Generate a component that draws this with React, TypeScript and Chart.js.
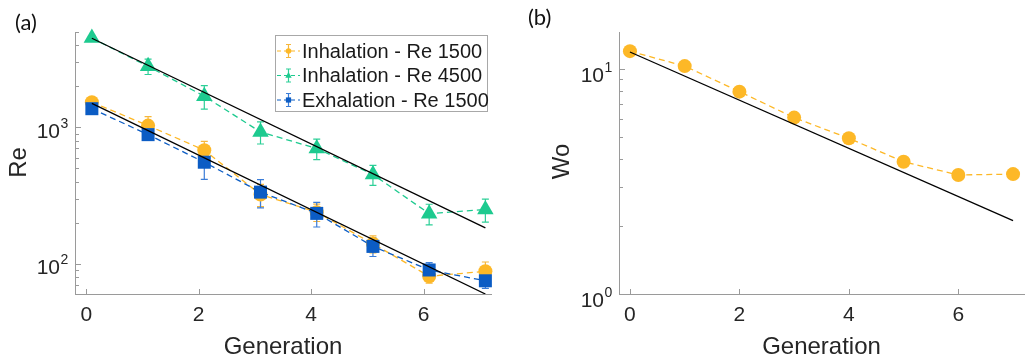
import React, { useEffect, useRef } from 'react';
import { Chart, registerables } from 'chart.js';
Chart.register(...registerables);

// ---------- data ----------
const generationA = [0.1, 1.1, 2.1, 3.1, 4.1, 5.1, 6.1, 7.1];
const inhal1500 = [1530, 1030, 680, 322, 239, 140, 81, 88];
const inhal1500Err = [50, 170, 110, 60, 35, 20, 9, 15];
const inhal4500 = [4510, 2800, 1690, 925, 700, 451, 233, 250];
const inhal4500Err = [100, 360, 330, 170, 120, 75, 40, 48];
const exhal1500 = [1370, 884, 555, 335, 234, 134, 90, 75];
const exhal1500Err = [40, 60, 140, 78, 48, 21, 12, 9];
const fitXA = [0.1, 7.1];
const fitHighA = [4500, 183];
const fitLowA = [1500, 60];

const generationB = [0, 1, 2, 3, 4, 5, 6, 7];
const womersley = [12.0, 10.3, 7.93, 6.08, 4.92, 3.87, 3.38, 3.41];
const fitXB = [0, 7];
const fitWo = [11.9, 2.12];

const xTickValues = [0, 2, 4, 6];
const legendLabels = ['Inhalation - Re 1500', 'Inhalation - Re 4500', 'Exhalation - Re 1500'];

// ---------- styles ----------
const ORANGE = '#FDB827';
const GREEN = '#1DCA8F';
const BLUE = '#0B5CC4';
const ORANGE_ERR = '#F6B73C';
const GREEN_ERR = '#2CCF97';
const BLUE_ERR = '#3B7DD8';
const TEXT = '#262626';
const AXIS = '#9a9a9a';
const SANS = '"Liberation Sans", Arial, sans-serif';

const pts = (xs: number[], ys: number[]) => xs.map((x, i) => ({ x, y: ys[i] }));

type ErrSpec = { index: number; errors: number[]; color: string };
type LegendSpec = { label: string; color: string; errColor: string; style: string };

function makeDecor(cfg: {
  title: string; titleX: number; titleY: number;
  yLabel: string; yLabelX: number; yLabelY: number;
  yMin: number; yMax: number; decades: number[];
  labelShift: number;
  errs: ErrSpec[];
  legend?: LegendSpec[];
}) {
  return {
    id: 'decor',
    beforeDatasetsDraw(chart: any) {
      const ctx = chart.ctx;
      const ys = chart.scales.y;
      ctx.save();
      ctx.lineWidth = 1.2;
      for (const e of cfg.errs) {
        const meta = chart.getDatasetMeta(e.index);
        const data = chart.data.datasets[e.index].data as any[];
        ctx.strokeStyle = e.color;
        meta.data.forEach((el: any, j: number) => {
          const v = data[j].y;
          const t = ys.getPixelForValue(v + e.errors[j]);
          const b = ys.getPixelForValue(v - e.errors[j]);
          ctx.beginPath();
          ctx.moveTo(el.x, t); ctx.lineTo(el.x, b);
          ctx.moveTo(el.x - 3.5, t); ctx.lineTo(el.x + 3.5, t);
          ctx.moveTo(el.x - 3.5, b); ctx.lineTo(el.x + 3.5, b);
          ctx.stroke();
        });
      }
      ctx.restore();
    },
    afterDraw(chart: any) {
      const ctx = chart.ctx;
      const { left, right, bottom } = chart.chartArea;
      const xs = chart.scales.x;
      const ys = chart.scales.y;
      ctx.save();
      // tick marks (inward)
      ctx.strokeStyle = AXIS;
      ctx.lineWidth = 1;
      ctx.beginPath();
      for (const v of xTickValues) {
        const px = Math.round(xs.getPixelForValue(v)) + 0.5;
        ctx.moveTo(px, bottom); ctx.lineTo(px, bottom - 5);
      }
      for (let d = Math.pow(10, Math.floor(Math.log10(cfg.yMin))); d <= cfg.yMax; d *= 10) {
        for (let m = 1; m <= 9; m++) {
          const v = d * m;
          if (v < cfg.yMin - 1e-9 || v > cfg.yMax) continue;
          const py = Math.round(ys.getPixelForValue(v)) + 0.5;
          ctx.moveTo(left, py); ctx.lineTo(left + (m === 1 ? 6 : 4), py);
        }
      }
      ctx.stroke();
      // y tick labels 10^n
      ctx.fillStyle = TEXT;
      for (const v of cfg.decades) {
        const py = ys.getPixelForValue(v);
        const exp = Math.round(Math.log10(v));
        const xr = left - 15;
        ctx.font = '21px ' + SANS;
        ctx.textAlign = 'right';
        ctx.textBaseline = 'alphabetic';
        ctx.fillText('10', xr, py + 10.6 + cfg.labelShift);
        ctx.font = '14px ' + SANS;
        ctx.textAlign = 'left';
        ctx.fillText(String(exp), xr + 0.5, py + 0.6 + cfg.labelShift);
      }
      // axis titles
      ctx.font = '24px ' + SANS;
      ctx.textAlign = 'center';
      ctx.textBaseline = 'alphabetic';
      ctx.fillText('Generation', (left + right) / 2, 354);
      ctx.save();
      ctx.translate(cfg.yLabelX, cfg.yLabelY);
      ctx.rotate(-Math.PI / 2);
      ctx.textBaseline = 'middle';
      ctx.fillText(cfg.yLabel, 0, 0);
      ctx.restore();
      // panel title
      ctx.font = '22px Lato, "Open Sans", sans-serif';
      ctx.textAlign = 'left';
      ctx.textBaseline = 'middle';
      ctx.fillStyle = '#111';
      ctx.fillText(cfg.title, cfg.titleX, cfg.titleY);
      // legend
      if (cfg.legend) {
        const bx = 275.5, by = 35.5, bw = 212, bh = 76;
        ctx.fillStyle = '#fff';
        ctx.fillRect(bx, by, bw, bh);
        ctx.strokeStyle = '#a8a8a8';
        ctx.lineWidth = 1;
        ctx.strokeRect(bx, by, bw, bh);
        const rows = [51, 75.5, 100];
        cfg.legend.forEach((it, i) => {
          const y = rows[i];
          const cx = 288.5;
          ctx.strokeStyle = it.color;
          ctx.lineWidth = 1.2;
          ctx.setLineDash([4, 3]);
          ctx.beginPath();
          ctx.moveTo(277, y); ctx.lineTo(300, y);
          ctx.stroke();
          ctx.setLineDash([]);
          ctx.strokeStyle = it.errColor;
          ctx.beginPath();
          ctx.moveTo(cx, y - 6.5); ctx.lineTo(cx, y + 6.5);
          ctx.moveTo(cx - 2.5, y - 6.5); ctx.lineTo(cx + 2.5, y - 6.5);
          ctx.moveTo(cx - 2.5, y + 6.5); ctx.lineTo(cx + 2.5, y + 6.5);
          ctx.stroke();
          ctx.fillStyle = it.color;
          ctx.beginPath();
          if (it.style === 'circle') ctx.arc(cx, y, 2.8, 0, Math.PI * 2);
          else if (it.style === 'triangle') { ctx.moveTo(cx, y - 3.5); ctx.lineTo(cx + 3.2, y + 2.2); ctx.lineTo(cx - 3.2, y + 2.2); ctx.closePath(); }
          else ctx.rect(cx - 2.6, y - 2.6, 5.2, 5.2);
          ctx.fill();
          ctx.fillStyle = '#1a1a1a';
          ctx.font = '20px ' + SANS;
          ctx.textAlign = 'left';
          ctx.textBaseline = 'middle';
          ctx.fillText(it.label, 302, y + 1);
        });
      }
      ctx.restore();
    },
  };
}

function baseScales(yMin: number, yMax: number, yWidth: number) {
  return {
    x: {
      type: 'linear' as const,
      min: -0.2,
      max: 7.2,
      grid: { display: false, drawTicks: false },
      border: { display: true, color: AXIS, width: 1 },
      afterBuildTicks: (s: any) => { s.ticks = xTickValues.map((v) => ({ value: v })); },
      afterFit: (s: any) => { s.height = 60; },
      ticks: {
        padding: 9,
        color: TEXT,
        font: { family: SANS, size: 21 },
        maxRotation: 0,
        callback: (v: any) => String(v),
      },
    },
    y: {
      type: 'logarithmic' as const,
      min: yMin,
      max: yMax,
      grid: { display: false, drawTicks: false },
      border: { display: true, color: AXIS, width: 1 },
      ticks: { display: false },
      afterFit: (s: any) => { s.width = yWidth; },
    },
  };
}

const lineDs = (label: string, data: any[], color: string, style: string, radius: number, order: number) => ({
  label,
  data,
  showLine: true,
  borderColor: color,
  borderWidth: 1.3,
  borderDash: [6, 4],
  backgroundColor: color,
  pointBackgroundColor: color,
  pointBorderWidth: 0,
  pointBorderColor: color,
  pointStyle: style,
  pointRadius: radius,
  clip: false as any,
  order,
});

const fitDs = (data: any[]) => ({
  label: 'fit',
  data,
  showLine: true,
  borderColor: '#000',
  borderWidth: 1.3,
  pointRadius: 0,
  order: 0,
});

export default function App() {
  const refA = useRef<HTMLCanvasElement>(null);
  const refB = useRef<HTMLCanvasElement>(null);

  useEffect(() => {
    const chartA = new Chart(refA.current as HTMLCanvasElement, {
      type: 'scatter',
      data: {
        datasets: [
          fitDs(pts(fitXA, fitHighA)),
          fitDs(pts(fitXA, fitLowA)),
          lineDs(legendLabels[2], pts(generationA, exhal1500), BLUE, 'rect', 9.2, 1),
          lineDs(legendLabels[1], pts(generationA, inhal4500), GREEN, 'triangle', 9.5, 2),
          lineDs(legendLabels[0], pts(generationA, inhal1500), ORANGE, 'circle', 7, 3),
        ] as any,
      },
      options: {
        responsive: false,
        animation: false,
        devicePixelRatio: 1,
        layout: { padding: { left: 0, right: 29, top: 32, bottom: 0 } },
        plugins: { legend: { display: false }, tooltip: { enabled: false } },
        scales: baseScales(60, 5000, 75) as any,
      },
      plugins: [
        makeDecor({
          title: '(a)', titleX: 15, titleY: 23,
          yLabel: 'Re', yLabelX: 19, yLabelY: 162.5,
          yMin: 60, yMax: 5000, decades: [100, 1000], labelShift: 0,
          errs: [
            { index: 4, errors: inhal1500Err, color: ORANGE_ERR },
            { index: 3, errors: inhal4500Err, color: GREEN_ERR },
            { index: 2, errors: exhal1500Err, color: BLUE_ERR },
          ],
          legend: [
            { label: legendLabels[0], color: ORANGE, errColor: ORANGE_ERR, style: 'circle' },
            { label: legendLabels[1], color: GREEN, errColor: GREEN_ERR, style: 'triangle' },
            { label: legendLabels[2], color: BLUE, errColor: BLUE_ERR, style: 'rect' },
          ],
        }) as any,
      ],
    });

    const chartB = new Chart(refB.current as HTMLCanvasElement, {
      type: 'scatter',
      data: {
        datasets: [
          fitDs(pts(fitXB, fitWo)),
          lineDs('Wo', pts(generationB, womersley), ORANGE, 'circle', 7, 1),
        ] as any,
      },
      options: {
        responsive: false,
        animation: false,
        devicePixelRatio: 1,
        layout: { padding: { left: 0, right: 1, top: 32, bottom: 0 } },
        plugins: { legend: { display: false }, tooltip: { enabled: false } },
        scales: baseScales(1, 14.6, 99) as any,
      },
      plugins: [
        makeDecor({
          title: '(b)', titleX: 8, titleY: 18,
          yLabel: 'Wo', yLabelX: 42, yLabelY: 161.5,
          yMin: 1, yMax: 14.6, decades: [1, 10], labelShift: 2,
          errs: [],
        }) as any,
      ],
    });

    return () => { chartA.destroy(); chartB.destroy(); };
  }, []);

  return (
    <div style={{ position: 'absolute', left: 0, top: 0, width: 1031, height: 354, background: '#fff' }}>
      <canvas ref={refA} width={520} height={354} style={{ position: 'absolute', left: 0, top: 0, display: 'block' }} />
      <canvas ref={refB} width={511} height={354} style={{ position: 'absolute', left: 520, top: 0, display: 'block' }} />
    </div>
  );
}
